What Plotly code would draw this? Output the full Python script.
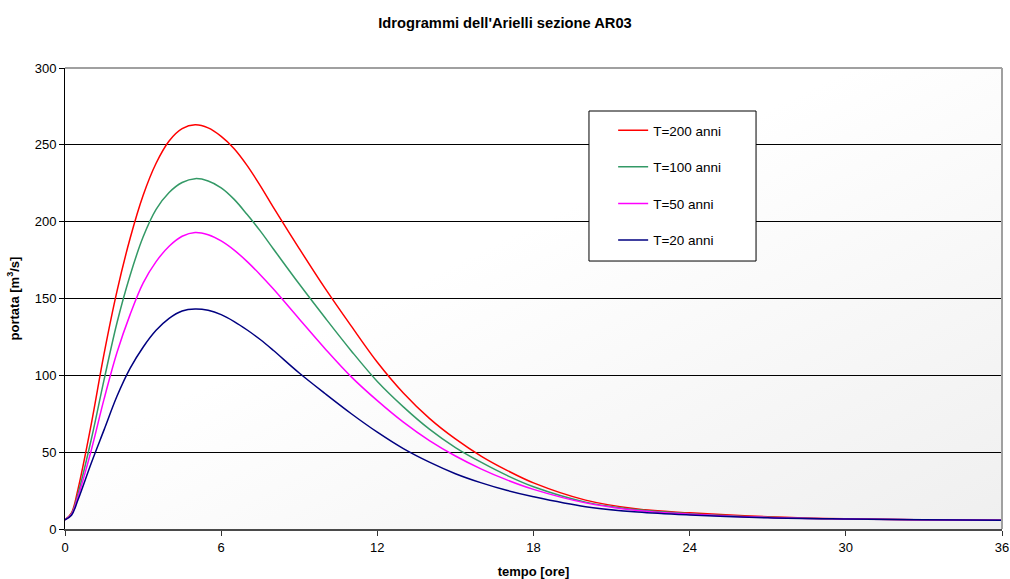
import base64
import plotly.graph_objects as go

# Time axis (hours) and discharge series (m^3/s) for each return period
tempo = [0, 0.25, 0.5, 1, 1.5, 2, 2.5, 3, 3.5, 4, 4.5, 5, 5.5, 6, 6.5, 7, 7.5, 8,
         9, 10, 11, 12, 13, 14, 15, 16, 17, 18, 20, 22, 24, 27, 30, 33, 36]

q_200 = [6, 10.5, 26, 67.5, 114, 155, 189, 217, 238, 252.5, 260.5, 263, 261,
         255.5, 247.5, 236.5, 223.5, 209.5, 182.5, 156.4, 132, 108.5, 88.5, 72,
         58.6, 47.3, 38, 30, 18.8, 13, 10.5, 8, 6.6, 6, 5.7]
q_100 = [6, 10, 23, 57.6, 97, 134.4, 165, 190, 208, 219, 225.5, 228, 226.5, 222,
         214.5, 204.6, 194, 182.4, 159.4, 137.3, 115.9, 96, 79.5, 65, 53, 43.3,
         34.7, 27.5, 17.5, 12.5, 10, 7.7, 6.5, 6, 5.7]
q_50 = [6, 9.5, 21, 50.7, 84.5, 115, 139.5, 160, 174, 184, 190.5, 193, 191.5,
        187.5, 181.5, 174, 165.5, 156.3, 136.7, 117.2, 99, 83.5, 69.5, 57.5, 47.5,
        39, 31.8, 25.8, 17, 12, 9.6, 7.5, 6.5, 6, 5.7]
q_20 = [6, 9, 19, 42.5, 64.5, 86.5, 104.5, 118.3, 129.3, 137.1, 141.9, 143.2,
        142.3, 139.5, 135, 129.5, 123.3, 116.3, 101.5, 88, 75, 63, 52.3, 43.5, 36,
        30, 25, 21, 14.5, 11, 9.1, 7.3, 6.5, 6, 5.7]

serie = [
    ("T=200 anni", q_200, "#FF0000"),
    ("T=100 anni", q_100, "#339966"),
    ("T=50 anni", q_50, "#FF00FF"),
    ("T=20 anni", q_20, "#000080"),
]

x_ticks = [0, 6, 12, 18, 24, 30, 36]
y_ticks = [0, 50, 100, 150, 200, 250, 300]

FONT = "Arial, Liberation Sans, sans-serif"

fig = go.Figure()
for i, (nome, valori, colore) in enumerate(serie):
    fig.add_trace(go.Scatter(
        x=tempo, y=valori, name=nome, mode="lines",
        line=dict(color=colore, width=1.5, shape="spline", smoothing=1.0),
        legendgroup=f"g{i}",
    ))

# Diagonal light-grey gradient behind the plotting area
svg = (
    '<svg xmlns="http://www.w3.org/2000/svg" width="400" height="200" '
    'preserveAspectRatio="none">'
    '<defs><linearGradient id="g" x1="0" y1="0" x2="1" y2="1">'
    '<stop offset="0" stop-color="#ffffff"/>'
    '<stop offset="0.42" stop-color="#ffffff"/>'
    '<stop offset="1" stop-color="#efefef"/>'
    '</linearGradient></defs>'
    '<rect width="400" height="200" fill="url(#g)"/></svg>'
)
src = "data:image/svg+xml;base64," + base64.b64encode(svg.encode()).decode()

# Legend frame (paper coordinates of the plotting area)
box_x0, box_x1 = 0.5592, 0.7375
box_y0, box_y1 = 0.5813, 0.9067

fig.update_layout(
    width=1010, height=579,
    margin=dict(l=65, r=8, t=68, b=50),
    paper_bgcolor="white",
    plot_bgcolor="rgba(0,0,0,0)",
    font=dict(family=FONT, size=13, color="black"),
    title=dict(
        text="<b>Idrogrammi dell'Arielli sezione AR03</b>",
        x=0.5, xanchor="center", y=0.961, yanchor="middle",
        font=dict(family=FONT, size=14.7, color="black"),
    ),
    images=[dict(
        source=src, xref="x domain", yref="y domain", x=0, y=1,
        sizex=1, sizey=1, xanchor="left", yanchor="top",
        sizing="stretch", layer="below",
    )],
    showlegend=True,
    legend=dict(
        x=0.585, y=0.898, xanchor="left", yanchor="top",
        bgcolor="rgba(0,0,0,0)", borderwidth=0,
        font=dict(family=FONT, size=13.5, color="black"),
        traceorder="grouped", tracegroupgap=16,
    ),
    xaxis=dict(
        range=[0, 36], tickvals=x_ticks, ticktext=[str(v) for v in x_ticks],
        showgrid=False, zeroline=False,
        showline=True, linecolor="#4a4a4a", linewidth=2,
        ticks="outside", ticklen=5, tickcolor="#333333",
        tickfont=dict(family=FONT, size=13),
        title=dict(text="<b>tempo [ore]</b>", standoff=13,
                   font=dict(family=FONT, size=13)),
        automargin=False,
    ),
    yaxis=dict(
        range=[0, 300], tickvals=y_ticks, ticktext=[str(v) for v in y_ticks],
        showgrid=True, gridcolor="black", gridwidth=1, zeroline=False,
        showline=True, linecolor="black", linewidth=1,
        ticks="outside", ticklen=5, tickcolor="black",
        tickfont=dict(family=FONT, size=13),
        title=dict(text="<b>portata [m<sup>3</sup>/s]</b>", standoff=12,
                   font=dict(family=FONT, size=13)),
        automargin=False,
    ),
    shapes=[
        dict(type="line", xref="x domain", yref="y domain",
             x0=1, x1=1, y0=0, y1=1, line=dict(color="#a0a0a0", width=2)),
        dict(type="line", xref="x domain", yref="y domain",
             x0=0, x1=1, y0=1, y1=1, line=dict(color="#a0a0a0", width=2)),
        dict(type="rect", xref="paper", yref="paper",
             x0=box_x0, x1=box_x1, y0=box_y0, y1=box_y1,
             fillcolor="white", line=dict(color="black", width=1)),
    ],
)

fig.write_html("out.html")
